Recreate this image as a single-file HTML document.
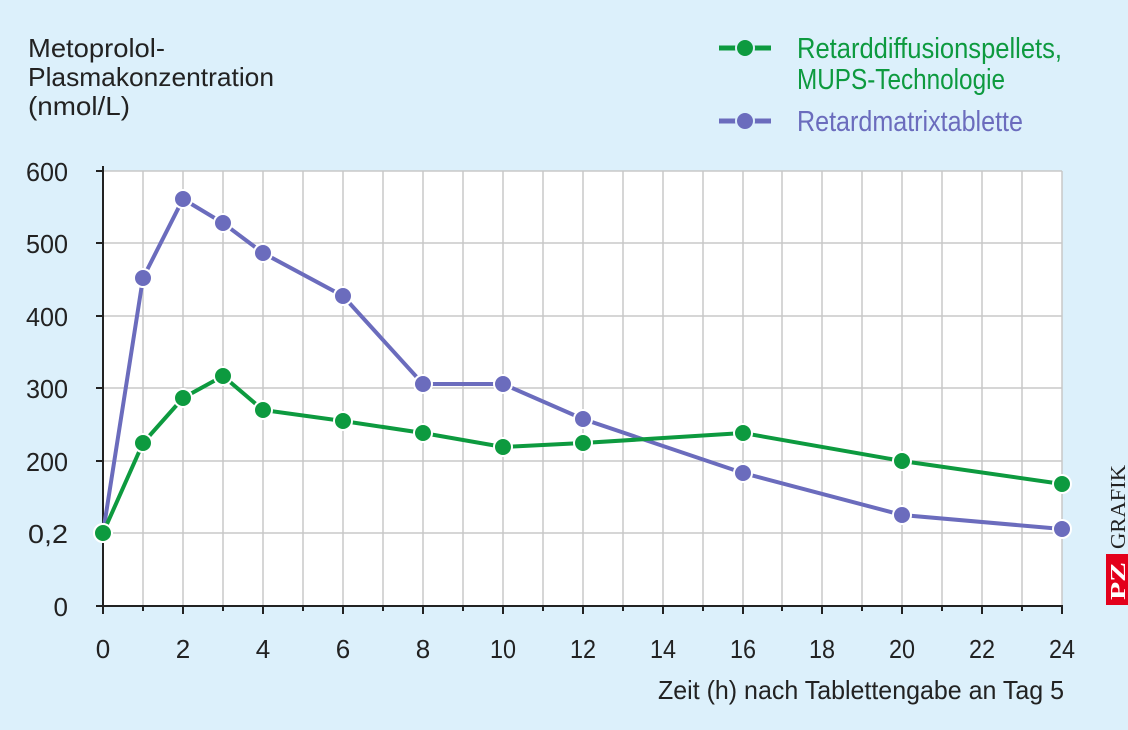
<!DOCTYPE html>
<html><head><meta charset="utf-8"><style>
html,body{margin:0;padding:0;background:#dcf0fb;}
svg{display:block;font-family:"Liberation Sans Narrow","Liberation Sans",sans-serif;}
</style></head><body>
<svg width="1128" height="730" viewBox="0 0 1128 730" xmlns="http://www.w3.org/2000/svg">
<rect width="1128" height="730" fill="#dcf0fb"/>
<rect x="103" y="171" width="959" height="435" fill="#ffffff"/>
<g stroke="#c8c8c8" stroke-width="1.5">
<line x1="143" y1="171" x2="143" y2="606"/><line x1="183" y1="171" x2="183" y2="606"/><line x1="223" y1="171" x2="223" y2="606"/><line x1="263" y1="171" x2="263" y2="606"/><line x1="303" y1="171" x2="303" y2="606"/><line x1="343" y1="171" x2="343" y2="606"/><line x1="383" y1="171" x2="383" y2="606"/><line x1="423" y1="171" x2="423" y2="606"/><line x1="463" y1="171" x2="463" y2="606"/><line x1="503" y1="171" x2="503" y2="606"/><line x1="543" y1="171" x2="543" y2="606"/><line x1="583" y1="171" x2="583" y2="606"/><line x1="623" y1="171" x2="623" y2="606"/><line x1="663" y1="171" x2="663" y2="606"/><line x1="703" y1="171" x2="703" y2="606"/><line x1="743" y1="171" x2="743" y2="606"/><line x1="782" y1="171" x2="782" y2="606"/><line x1="822" y1="171" x2="822" y2="606"/><line x1="862" y1="171" x2="862" y2="606"/><line x1="902" y1="171" x2="902" y2="606"/><line x1="942" y1="171" x2="942" y2="606"/><line x1="982" y1="171" x2="982" y2="606"/><line x1="1022" y1="171" x2="1022" y2="606"/><line x1="1062" y1="171" x2="1062" y2="606"/>
<line x1="103" y1="171" x2="1062" y2="171"/><line x1="103" y1="243" x2="1062" y2="243"/><line x1="103" y1="316" x2="1062" y2="316"/><line x1="103" y1="388" x2="1062" y2="388"/><line x1="103" y1="461" x2="1062" y2="461"/><line x1="103" y1="533" x2="1062" y2="533"/>
</g>
<g stroke="#222" stroke-width="2">
<line x1="103" y1="166" x2="103" y2="607"/><line x1="96" y1="606" x2="1063" y2="606"/>
<line x1="96" y1="171" x2="103" y2="171"/><line x1="96" y1="243" x2="103" y2="243"/><line x1="96" y1="316" x2="103" y2="316"/><line x1="96" y1="388" x2="103" y2="388"/><line x1="96" y1="461" x2="103" y2="461"/><line x1="96" y1="533" x2="103" y2="533"/>
<line x1="103" y1="606" x2="103" y2="614"/><line x1="183" y1="606" x2="183" y2="614"/><line x1="263" y1="606" x2="263" y2="614"/><line x1="343" y1="606" x2="343" y2="614"/><line x1="423" y1="606" x2="423" y2="614"/><line x1="503" y1="606" x2="503" y2="614"/><line x1="583" y1="606" x2="583" y2="614"/><line x1="663" y1="606" x2="663" y2="614"/><line x1="743" y1="606" x2="743" y2="614"/><line x1="822" y1="606" x2="822" y2="614"/><line x1="902" y1="606" x2="902" y2="614"/><line x1="982" y1="606" x2="982" y2="614"/><line x1="1062" y1="606" x2="1062" y2="614"/>
<line x1="143" y1="606" x2="143" y2="611"/><line x1="223" y1="606" x2="223" y2="611"/><line x1="303" y1="606" x2="303" y2="611"/><line x1="383" y1="606" x2="383" y2="611"/><line x1="463" y1="606" x2="463" y2="611"/><line x1="543" y1="606" x2="543" y2="611"/><line x1="623" y1="606" x2="623" y2="611"/><line x1="703" y1="606" x2="703" y2="611"/><line x1="782" y1="606" x2="782" y2="611"/><line x1="862" y1="606" x2="862" y2="611"/><line x1="942" y1="606" x2="942" y2="611"/><line x1="1022" y1="606" x2="1022" y2="611"/>
</g>
<g font-size="26" fill="#222" text-anchor="end">
<text x="68" y="181" textLength="42" lengthAdjust="spacingAndGlyphs">600</text><text x="68" y="253" textLength="42" lengthAdjust="spacingAndGlyphs">500</text><text x="68" y="326" textLength="42" lengthAdjust="spacingAndGlyphs">400</text><text x="68" y="398" textLength="42" lengthAdjust="spacingAndGlyphs">300</text><text x="68" y="471" textLength="42" lengthAdjust="spacingAndGlyphs">200</text><text x="68" y="543" textLength="40" lengthAdjust="spacingAndGlyphs">0,2</text><text x="68" y="616">0</text>
</g>
<g font-size="26" fill="#222" text-anchor="middle">
<text x="103" y="658">0</text><text x="183" y="658">2</text><text x="263" y="658">4</text><text x="343" y="658">6</text><text x="423" y="658">8</text><text x="503" y="658" textLength="26" lengthAdjust="spacingAndGlyphs">10</text><text x="583" y="658" textLength="26" lengthAdjust="spacingAndGlyphs">12</text><text x="663" y="658" textLength="26" lengthAdjust="spacingAndGlyphs">14</text><text x="743" y="658" textLength="26" lengthAdjust="spacingAndGlyphs">16</text><text x="822" y="658" textLength="26" lengthAdjust="spacingAndGlyphs">18</text><text x="902" y="658" textLength="26" lengthAdjust="spacingAndGlyphs">20</text><text x="982" y="658" textLength="26" lengthAdjust="spacingAndGlyphs">22</text><text x="1062" y="658" textLength="26" lengthAdjust="spacingAndGlyphs">24</text>
</g>
<text x="658" y="699" font-size="26" fill="#222" textLength="406" lengthAdjust="spacingAndGlyphs">Zeit (h) nach Tablettengabe an Tag 5</text>
<g font-size="26" fill="#222">
<text x="28" y="57" textLength="137" lengthAdjust="spacingAndGlyphs">Metoprolol-</text><text x="28" y="86" textLength="246" lengthAdjust="spacingAndGlyphs">Plasmakonzentration</text><text x="28" y="115" textLength="102" lengthAdjust="spacingAndGlyphs">(nmol/L)</text>
</g>
<polyline fill="none" stroke="#6b6cbd" stroke-width="4" points="103,533 143,278 183,199 223,223 263,253 343,296 423,384 503,384 583,419 743,473 902,515 1062,529"/>
<g fill="#6b6cbd" stroke="#fff" stroke-width="2">
<circle cx="103" cy="533" r="9"/><circle cx="143" cy="278" r="9"/><circle cx="183" cy="199" r="9"/><circle cx="223" cy="223" r="9"/><circle cx="263" cy="253" r="9"/><circle cx="343" cy="296" r="9"/><circle cx="423" cy="384" r="9"/><circle cx="503" cy="384" r="9"/><circle cx="583" cy="419" r="9"/><circle cx="743" cy="473" r="9"/><circle cx="902" cy="515" r="9"/><circle cx="1062" cy="529" r="9"/>
</g>
<polyline fill="none" stroke="#0d9a3f" stroke-width="4" points="103,533 143,443 183,398 223,376 263,410 343,421 423,433 503,447 583,443 743,433 902,461 1062,484"/>
<g fill="#0d9a3f" stroke="#fff" stroke-width="2">
<circle cx="103" cy="533" r="9"/><circle cx="143" cy="443" r="9"/><circle cx="183" cy="398" r="9"/><circle cx="223" cy="376" r="9"/><circle cx="263" cy="410" r="9"/><circle cx="343" cy="421" r="9"/><circle cx="423" cy="433" r="9"/><circle cx="503" cy="447" r="9"/><circle cx="583" cy="443" r="9"/><circle cx="743" cy="433" r="9"/><circle cx="902" cy="461" r="9"/><circle cx="1062" cy="484" r="9"/>
</g>
<line x1="719" y1="48" x2="771" y2="48" stroke="#0d9a3f" stroke-width="5"/>
<circle cx="745" cy="48" r="9" fill="#0d9a3f" stroke="#dcf0fb" stroke-width="2"/>
<line x1="719" y1="121" x2="771" y2="121" stroke="#6b6cbd" stroke-width="5"/>
<circle cx="745" cy="121" r="9" fill="#6b6cbd" stroke="#dcf0fb" stroke-width="2"/>
<g font-size="29">
<text x="797" y="58" fill="#0d9a3f" textLength="265" lengthAdjust="spacingAndGlyphs">Retarddiffusionspellets,</text>
<text x="797" y="89" fill="#0d9a3f" textLength="208" lengthAdjust="spacingAndGlyphs">MUPS-Technologie</text>
<text x="797" y="131" fill="#6b6cbd" textLength="226" lengthAdjust="spacingAndGlyphs">Retardmatrixtablette</text>
</g>
<rect x="1106" y="554" width="22" height="51" fill="#e3001b"/>
<text transform="translate(1125,600) rotate(-90)" font-family="Liberation Serif,serif" font-size="21" font-weight="bold" fill="#fff" textLength="38" lengthAdjust="spacingAndGlyphs">PZ</text>
<text transform="translate(1125,549) rotate(-90)" font-family="Liberation Serif,serif" font-size="21" fill="#222" textLength="84" lengthAdjust="spacingAndGlyphs">GRAFIK</text>
</svg>
</body></html>
